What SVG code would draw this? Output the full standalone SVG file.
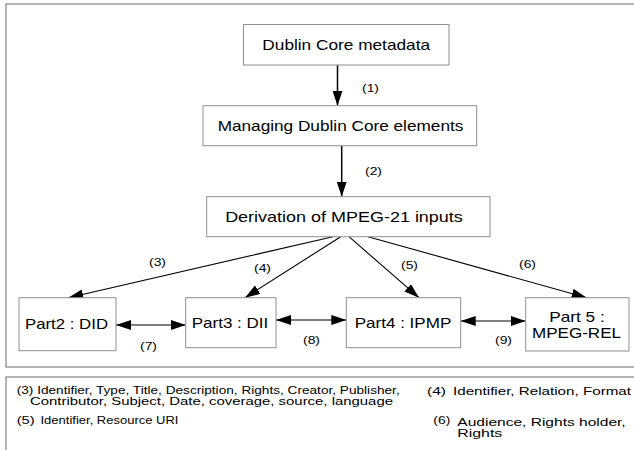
<svg xmlns="http://www.w3.org/2000/svg" width="634" height="450" viewBox="0 0 634 450">
  <style>
    .frame { fill: none; stroke: #9a9a9a; stroke-width: 1.5; }
    .box { fill: #ffffff; stroke: #8f8f8f; stroke-width: 1; }
    .node { font-family: "Liberation Sans", Arial, sans-serif; font-size: 14.5px; fill: #000; text-anchor: middle; }
    .lbl { font-family: "Liberation Sans", Arial, sans-serif; font-size: 11.5px; fill: #000; }
    .leg { font-family: "Liberation Sans", Arial, sans-serif; font-size: 11.5px; fill: #000; }
    .conn { stroke: #000; stroke-width: 1.1; fill: none; }
    .vconn { stroke: #000; stroke-width: 1.5; fill: none; }
  </style>
  <defs>
    <marker id="ah" markerUnits="userSpaceOnUse" markerWidth="16" markerHeight="10" refX="15" refY="5" orient="auto-start-reverse">
      <path d="M0,0 L15,5 L0,10 Z" fill="#000"/>
    </marker>
  </defs>

  <rect class="frame" x="6" y="4" width="700" height="363"/>
  <rect class="frame" x="6" y="377" width="700" height="100"/>

  <g id="connectors">
    <line class="vconn" x1="337.5" y1="65" x2="337.5" y2="105.7" marker-end="url(#ah)"/>
    <line class="vconn" x1="341.7" y1="145.7" x2="341.7" y2="196.7" marker-end="url(#ah)"/>
    <line class="conn" x1="333" y1="236.7" x2="68.3" y2="297.7" marker-end="url(#ah)"/>
    <line class="conn" x1="340.7" y1="236.7" x2="245" y2="297.7" marker-end="url(#ah)"/>
    <line class="conn" x1="349" y1="236.7" x2="419" y2="297.7" marker-end="url(#ah)"/>
    <line class="conn" x1="368" y1="236.7" x2="586.7" y2="297.7" marker-end="url(#ah)"/>
    <line class="conn" x1="116" y1="325" x2="185.7" y2="325" marker-start="url(#ah)" marker-end="url(#ah)"/>
    <line class="conn" x1="276" y1="320" x2="346.3" y2="320" marker-start="url(#ah)" marker-end="url(#ah)"/>
    <line class="conn" x1="460.7" y1="321" x2="525.7" y2="321" marker-start="url(#ah)" marker-end="url(#ah)"/>
    <text class="lbl" x="362" y="92" textLength="17" lengthAdjust="spacingAndGlyphs">(1)</text>
    <text class="lbl" x="365" y="175" textLength="17" lengthAdjust="spacingAndGlyphs">(2)</text>
    <text class="lbl" x="149" y="266" textLength="17" lengthAdjust="spacingAndGlyphs">(3)</text>
    <text class="lbl" x="254" y="272" textLength="17" lengthAdjust="spacingAndGlyphs">(4)</text>
    <text class="lbl" x="401" y="269" textLength="17" lengthAdjust="spacingAndGlyphs">(5)</text>
    <text class="lbl" x="519" y="268" textLength="17" lengthAdjust="spacingAndGlyphs">(6)</text>
    <text class="lbl" x="140" y="350" textLength="17" lengthAdjust="spacingAndGlyphs">(7)</text>
    <text class="lbl" x="303" y="344" textLength="17" lengthAdjust="spacingAndGlyphs">(8)</text>
    <text class="lbl" x="495" y="344" textLength="17" lengthAdjust="spacingAndGlyphs">(9)</text>
  </g>

  <g id="dublin-core-metadata">
    <rect class="box" x="243.5" y="24.5" width="205.5" height="40.5"/>
    <text class="node" x="346.2" y="50" textLength="167.7" lengthAdjust="spacingAndGlyphs">Dublin Core metadata</text>
  </g>
  <g id="managing-elements">
    <rect class="box" x="203" y="105.7" width="273.7" height="40"/>
    <text class="node" x="340.5" y="131" textLength="245.7" lengthAdjust="spacingAndGlyphs">Managing Dublin Core elements</text>
  </g>
  <g id="derivation">
    <rect class="box" x="206.7" y="196.7" width="283.3" height="40"/>
    <text class="node" x="344" y="222" textLength="237.7" lengthAdjust="spacingAndGlyphs">Derivation of MPEG-21 inputs</text>
  </g>
  <g id="part2-did">
    <rect class="box" x="19" y="297.7" width="97" height="53"/>
    <text class="node" x="66.5" y="329.3" textLength="83" lengthAdjust="spacingAndGlyphs">Part2 : DID</text>
  </g>
  <g id="part3-dii">
    <rect class="box" x="185.7" y="297.7" width="90.3" height="50"/>
    <text class="node" x="230" y="328.3" textLength="76.6" lengthAdjust="spacingAndGlyphs">Part3 : DII</text>
  </g>
  <g id="part4-ipmp">
    <rect class="box" x="346.3" y="297.7" width="114.4" height="50"/>
    <text class="node" x="403" y="328.3" textLength="96.6" lengthAdjust="spacingAndGlyphs">Part4 : IPMP</text>
  </g>
  <g id="part5-mpeg-rel">
    <rect class="box" x="525.7" y="297.7" width="103.3" height="53.3"/>
    <text class="node" x="577" y="321.7" textLength="55.5" lengthAdjust="spacingAndGlyphs">Part 5 :</text>
    <text class="node" x="576.5" y="337.5" textLength="89" lengthAdjust="spacingAndGlyphs">MPEG-REL</text>
  </g>

  <g id="legend">
    <text class="leg" x="16.7" y="393.5" textLength="383" lengthAdjust="spacingAndGlyphs">(3) Identifier, Type, Title, Description, Rights, Creator, Publisher,</text>
    <text class="leg" x="30" y="404.5" textLength="363" lengthAdjust="spacingAndGlyphs">Contributor, Subject, Date, coverage, source, language</text>
    <text class="leg" x="427" y="395" textLength="19" lengthAdjust="spacingAndGlyphs">(4)</text>
    <text class="leg" x="453" y="395" textLength="178" lengthAdjust="spacingAndGlyphs">Identifier, Relation, Format</text>
    <text class="leg" x="16.7" y="424" textLength="18" lengthAdjust="spacingAndGlyphs">(5)</text>
    <text class="leg" x="40.5" y="424" textLength="138" lengthAdjust="spacingAndGlyphs">Identifier, Resource URI</text>
    <text class="leg" x="433.3" y="424" textLength="17" lengthAdjust="spacingAndGlyphs">(6)</text>
    <text class="leg" x="457.3" y="425.5" textLength="168.4" lengthAdjust="spacingAndGlyphs">Audience, Rights holder,</text>
    <text class="leg" x="457.3" y="436.5" textLength="45" lengthAdjust="spacingAndGlyphs">Rights</text>
  </g>
</svg>
